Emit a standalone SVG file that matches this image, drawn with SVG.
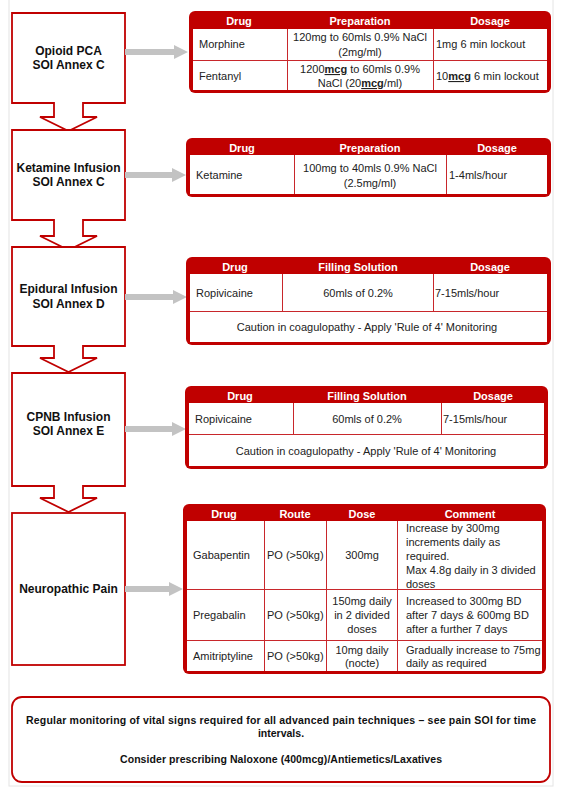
<svg xmlns="http://www.w3.org/2000/svg" width="564" height="794" viewBox="0 0 564 794">
<style>
text{font-family:"Liberation Sans",Arial,sans-serif;fill:#1a1a1a}
.box{fill:#fff;stroke:#c00000;stroke-width:1.8}
.lbl{font-size:12px;font-weight:bold;text-anchor:middle;fill:#111}
.arr{fill:#c3c3c3}
.tout{fill:#c00000}
.tin{fill:#fff}
.grid{stroke:#c8272b;stroke-width:1;fill:none}
.th{font-size:11px;font-weight:bold;fill:#fff;text-anchor:middle}
.td{font-size:11px;fill:#222}
.c{text-anchor:middle}
.u{font-weight:bold;text-decoration:underline}
.note{font-size:10.5px;font-weight:bold;text-anchor:middle;fill:#111}
</style>
<rect x="9" y="-2" width="544" height="788" fill="none" stroke="#e4e4e4" stroke-width="1"/>

<g id="n1"><path class="box" d="M12 13H125V103H83V117H97L68.5 131L40 117H54V103H12Z"/>
<text class="lbl" x="68.5" y="55">Opioid PCA</text><text class="lbl" x="68.5" y="69">SOI Annex C</text></g>
<g id="n2"><path class="box" d="M12 130H125V220H83V236H97L68.5 250L40 236H54V220H12Z"/>
<text class="lbl" x="68.5" y="172">Ketamine Infusion</text><text class="lbl" x="68.5" y="186">SOI Annex C</text></g>
<g id="n3"><path class="box" d="M12 247H125V346H83V358H97L68.5 372L40 358H54V346H12Z"/>
<text class="lbl" x="68.5" y="293">Epidural Infusion</text><text class="lbl" x="68.5" y="308">SOI Annex D</text></g>
<g id="n4"><path class="box" d="M12 373H125V486H83V498H97L68.5 512L40 498H54V486H12Z"/>
<text class="lbl" x="68.5" y="421">CPNB Infusion</text><text class="lbl" x="68.5" y="435">SOI Annex E</text></g>
<g id="n5"><rect class="box" x="12" y="513" width="113" height="152"/>
<text class="lbl" x="68.5" y="593">Neuropathic Pain</text></g>

<g id="connectors">
<path class="arr" d="M125 49H174V45L188 52L174 59V55H125Z"/>
<path class="arr" d="M125 172H172V168L186 175L172 182V178H125Z"/>
<path class="arr" d="M125 294H173V290L187 297L173 304V300H125Z"/>
<path class="arr" d="M125 426H172V422L186 429L172 436V432H125Z"/>
<path class="arr" d="M125 586H169V582L183 589L169 596V592H125Z"/>
</g>

<g id="t1">
<rect class="tout" x="189" y="11" width="362" height="82" rx="6"/>
<rect class="tin" x="193" y="29" width="354" height="61"/>
<path class="grid" d="M193 60.5H547M287.5 29V90M433.5 29V90"/>
<text class="th" x="239" y="25">Drug</text><text class="th" x="360" y="25">Preparation</text><text class="th" x="490" y="25">Dosage</text>
<text class="td" x="199" y="48">Morphine</text>
<text class="td c" x="360" y="41">120mg to 60mls 0.9% NaCl</text><text class="td c" x="360" y="56">(2mg/ml)</text>
<text class="td" x="436" y="48">1mg 6 min lockout</text>
<text class="td" x="199" y="80">Fentanyl</text>
<text class="td c" x="360" y="73">1200<tspan class="u">mcg</tspan> to 60mls 0.9%</text><text class="td c" x="360" y="87">NaCl (20<tspan class="u">mcg</tspan>/ml)</text>
<text class="td" x="436" y="80">10<tspan class="u">mcg</tspan> 6 min lockout</text>
</g>

<g id="t2">
<rect class="tout" x="186" y="138" width="365" height="59" rx="6"/>
<rect class="tin" x="190" y="155" width="357" height="39"/>
<path class="grid" d="M294.5 155V194M446.5 155V194"/>
<text class="th" x="242" y="152">Drug</text><text class="th" x="370" y="152">Preparation</text><text class="th" x="497" y="152">Dosage</text>
<text class="td" x="196" y="179">Ketamine</text>
<text class="td c" x="370" y="172">100mg to 40mls 0.9% NaCl</text><text class="td c" x="370" y="187">(2.5mg/ml)</text>
<text class="td" x="449" y="179">1-4mls/hour</text>
</g>

<g id="t3">
<rect class="tout" x="186" y="257" width="365" height="88" rx="6"/>
<rect class="tin" x="190" y="274" width="357" height="68"/>
<path class="grid" d="M190 311.5H547M282.5 274V311M433.5 274V311"/>
<text class="th" x="235" y="271">Drug</text><text class="th" x="358" y="271">Filling Solution</text><text class="th" x="490" y="271">Dosage</text>
<text class="td" x="196" y="297">Ropivicaine</text>
<text class="td c" x="358" y="297">60mls of 0.2%</text>
<text class="td" x="435" y="297">7-15mls/hour</text>
<text class="td c" x="367" y="331">Caution in coagulopathy - Apply 'Rule of 4' Monitoring</text>
</g>

<g id="t4">
<rect class="tout" x="185" y="386" width="363" height="83" rx="6"/>
<rect class="tin" x="189" y="403" width="355" height="63"/>
<path class="grid" d="M189 434.5H544M293.5 403V434M441.5 403V434"/>
<text class="th" x="240" y="400">Drug</text><text class="th" x="367" y="400">Filling Solution</text><text class="th" x="493" y="400">Dosage</text>
<text class="td" x="195" y="423">Ropivicaine</text>
<text class="td c" x="367" y="423">60mls of 0.2%</text>
<text class="td" x="443" y="423">7-15mls/hour</text>
<text class="td c" x="366" y="455">Caution in coagulopathy - Apply 'Rule of 4' Monitoring</text>
</g>

<g id="t5">
<rect class="tout" x="183" y="504" width="363" height="170" rx="6"/>
<rect class="tin" x="187" y="521" width="355" height="150"/>
<path class="grid" d="M187 589.5H542M187 640.5H542M264.5 521V671M326.5 521V671M397.5 521V671"/>
<text class="th" x="224" y="518">Drug</text><text class="th" x="295" y="518">Route</text><text class="th" x="362" y="518">Dose</text><text class="th" x="470" y="518">Comment</text>
<text class="td" x="193" y="559">Gabapentin</text>
<text class="td" x="267" y="559">PO (&gt;50kg)</text>
<text class="td c" x="362" y="559">300mg</text>
<text class="td" x="406" y="532">Increase by 300mg</text>
<text class="td" x="406" y="546">increments daily as</text>
<text class="td" x="406" y="560">required.</text>
<text class="td" x="406" y="574">Max 4.8g daily in 3 divided</text>
<text class="td" x="406" y="588">doses</text>
<text class="td" x="193" y="619">Pregabalin</text>
<text class="td" x="267" y="619">PO (&gt;50kg)</text>
<text class="td c" x="362" y="605">150mg daily</text>
<text class="td c" x="362" y="619">in 2 divided</text>
<text class="td c" x="362" y="633">doses</text>
<text class="td" x="406" y="605">Increased to 300mg BD</text>
<text class="td" x="406" y="619">after 7 days &amp; 600mg BD</text>
<text class="td" x="406" y="633">after a further 7 days</text>
<text class="td" x="193" y="660">Amitriptyline</text>
<text class="td" x="267" y="660">PO (&gt;50kg)</text>
<text class="td c" x="362" y="654">10mg daily</text>
<text class="td c" x="362" y="667">(nocte)</text>
<text class="td" x="406" y="654">Gradually increase to 75mg</text>
<text class="td" x="406" y="667">daily as required</text>
</g>

<g id="n6">
<rect x="12" y="697" width="538" height="85" rx="10" fill="#fff" stroke="#c00000" stroke-width="1.8"/>
<text class="note" x="281" y="724" textLength="510" lengthAdjust="spacing">Regular monitoring of vital signs required for all advanced pain techniques – see pain SOI for time</text>
<text class="note" x="281" y="737">intervals.</text>
<text class="note" x="281" y="763" textLength="322" lengthAdjust="spacing">Consider prescribing Naloxone (400mcg)/Antiemetics/Laxatives</text>
</g>
</svg>
